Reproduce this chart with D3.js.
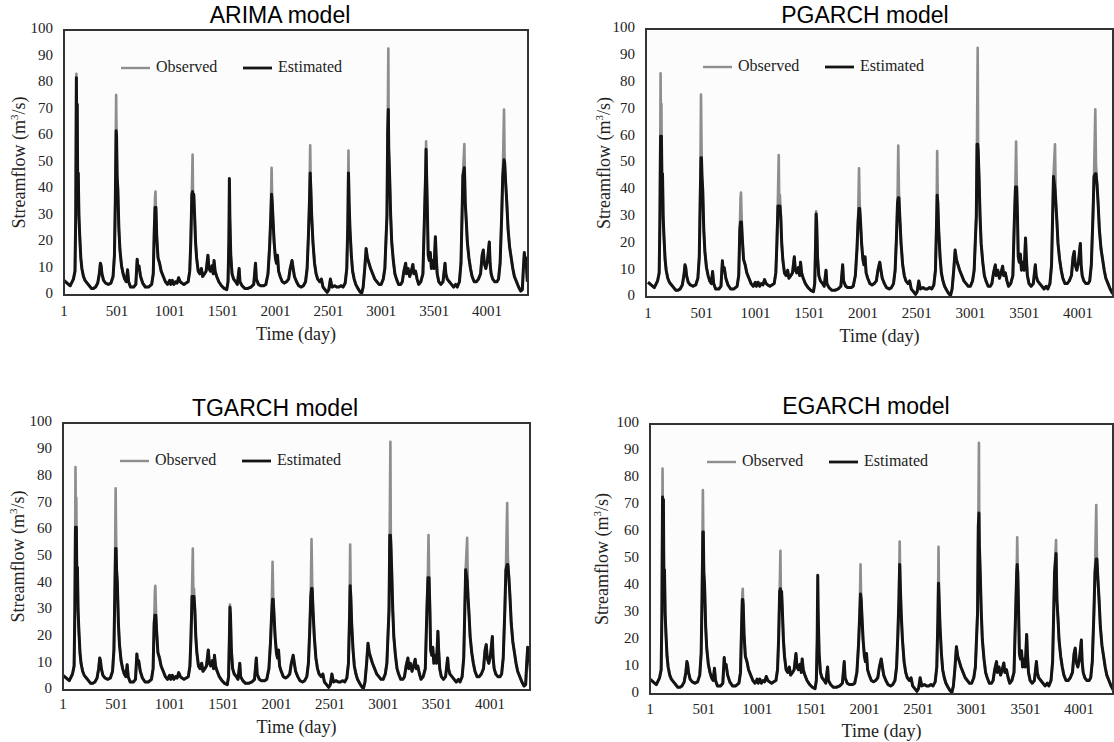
<!DOCTYPE html>
<html>
<head>
<meta charset="utf-8">
<script src="https://cdn.jsdelivr.net/npm/d3@7"></script>
<style>
  body { margin: 0; background: #fff; }
  svg { display: block; }
</style>
</head>
<body>
<svg id="chart" width="1114" height="742"></svg>
<script>
// observed daily streamflow at key days
const days = [1, 30, 60, 90, 105, 112, 118, 122, 126, 130, 136, 142, 150, 160, 170, 185, 200, 220, 240, 260, 280, 300, 320, 335, 345, 352, 360, 375, 395, 420, 445, 465, 478, 486, 494, 498, 503, 510, 520, 530, 545, 560, 575, 590, 602, 612, 630, 660, 680, 693, 700, 710, 725, 745, 770, 800, 830, 845, 855, 862, 866, 870, 878, 890, 905, 920, 940, 960, 980, 1000, 1010, 1025, 1040, 1055, 1070, 1085, 1100, 1115, 1135, 1155, 1175, 1190, 1200, 1210, 1217, 1222, 1228, 1236, 1245, 1255, 1270, 1285, 1300, 1312, 1330, 1345, 1362, 1372, 1385, 1400, 1412, 1420, 1430, 1445, 1465, 1490, 1515, 1540, 1552, 1560, 1565, 1570, 1578, 1590, 1605, 1625, 1640, 1657, 1665, 1685, 1710, 1740, 1770, 1795, 1812, 1820, 1840, 1860, 1890, 1910, 1930, 1945, 1955, 1964, 1970, 1978, 1988, 2000, 2010, 2020, 2030, 2045, 2065, 2085, 2105, 2125, 2140, 2157, 2168, 2180, 2200, 2220, 2245, 2265, 2285, 2300, 2312, 2322, 2329, 2335, 2343, 2355, 2370, 2385, 2400, 2420, 2435, 2450, 2470, 2490, 2505, 2520, 2535, 2560, 2580, 2600, 2620, 2640, 2660, 2675, 2685, 2691, 2697, 2705, 2718, 2730, 2745, 2760, 2780, 2795, 2815, 2830, 2845, 2858, 2870, 2885, 2900, 2920, 2940, 2960, 2980, 3000, 3020, 3035, 3045, 3055, 3062, 3068, 3072, 3080, 3090, 3100, 3115, 3130, 3145, 3165, 3185, 3200, 3215, 3232, 3240, 3255, 3270, 3285, 3300, 3310, 3325, 3340, 3355, 3375, 3395, 3410, 3420, 3425, 3430, 3438, 3445, 3455, 3465, 3475, 3490, 3500, 3513, 3520, 3530, 3545, 3565, 3585, 3604, 3612, 3625, 3645, 3665, 3685, 3705, 3720, 3740, 3755, 3765, 3773, 3787, 3795, 3805, 3815, 3830, 3845, 3860, 3880, 3900, 3920, 3940, 3955, 3966, 3975, 3990, 4005, 4023, 4030, 4040, 4055, 4075, 4095, 4110, 4125, 4140, 4150, 4162, 4168, 4178, 4188, 4200, 4215, 4230, 4245, 4260, 4280, 4300, 4320, 4335, 4345, 4354, 4362, 4370, 4378, 4383];
const observed = [5.5, 4.5, 3.5, 6, 9, 30, 83.5, 60, 72, 45, 46, 30, 22, 14, 10, 7, 5.5, 4.5, 3.5, 2.5, 2.5, 3, 4.5, 8, 12, 11, 8, 5.5, 4.5, 4, 4.5, 7, 15, 35, 75.5, 60, 45, 40, 25, 17, 11, 8, 6, 5, 9.5, 5, 3, 3, 4, 13.5, 10, 11, 7, 4.5, 3, 3, 4, 8, 25, 37, 39, 33, 22, 14, 12, 9, 7, 5, 4, 5.5, 4, 5.5, 4, 5, 4.5, 6.5, 5, 4.5, 4, 4.5, 5, 9, 20, 38, 53, 35, 38, 30, 20, 14, 9, 8, 10, 7, 8, 9, 15, 10, 9, 11, 8, 13, 9, 7, 5, 3.5, 2.5, 2, 5, 20, 32, 28, 15, 8, 6, 5, 4, 10, 5, 3.5, 2.5, 2.5, 3, 4, 12, 6, 4, 3.5, 3.5, 4, 8, 18, 28, 48, 35, 28, 20, 14, 12, 15, 9, 7, 5, 4.5, 5, 6, 10, 13, 10, 7, 5, 3.5, 3, 3.5, 5, 10, 22, 35, 56.5, 40, 30, 20, 12, 8, 6, 5, 6, 3, 2, 1, 2, 6, 3, 3.5, 3, 3, 3.5, 3, 4.5, 10, 27, 54.5, 35, 25, 15, 9, 6, 4, 2.5, 1.5, 0.5, 3, 10, 17.5, 14, 12, 10, 8, 6, 5, 4, 4, 6, 10, 20, 30, 62, 93, 55, 45, 30, 20, 13, 8, 6, 4, 4, 5, 9, 12, 8, 10, 7, 9, 11.5, 8, 9, 6, 4, 5, 8, 30, 45, 58, 45, 30, 15, 13, 16, 10, 13, 10, 22, 15, 8, 5, 4, 5, 12, 8, 6, 5, 4, 3, 4, 3, 5, 12, 30, 45, 57, 35, 28, 20, 14, 10, 7, 5, 5, 6, 8, 15, 17, 12, 10, 13, 20, 12, 8, 6, 5, 5, 6, 12, 30, 45, 70, 50, 42, 35, 25, 18, 14, 10, 7, 5, 3, 1.5, 2, 10, 16, 12, 14, 8, 5];

// estimated flow at the main flood peaks, per model
const peakDays = [118, 494, 866, 1217, 1565, 1964, 2329, 2691, 3068, 3425, 3787, 4162];
const arimaPeaks  = [82, 62, 33, 39, 44, 38, 46, 46, 70, 55, 48, 51];
const pgarchPeaks = [60, 52, 28, 34, 31, 33, 37, 38, 57, 41, 40, 46];
const tgarchPeaks = [61, 53, 28, 35, 31, 34, 38, 39, 58, 42, 41, 47];
const egarchPeaks = [73, 60, 35, 39, 44, 37, 48, 41, 67, 48, 52, 50];

const xTicks = [1, 501, 1001, 1501, 2001, 2501, 3001, 3501, 4001];
const yTicks = [0, 10, 20, 30, 40, 50, 60, 70, 80, 90, 100];

const panels = [
  {title: 'ARIMA model', peaks: arimaPeaks, left: 64, right: 528, top: 30, bottom: 295, x1: 64, x4001: 487, titleX: 280, titleY: 17, tickY: 313, labelY: 336, ylabX: 21},
  {title: 'PGARCH model', peaks: pgarchPeaks, left: 646, right: 1113, top: 29, bottom: 297, x1: 648, x4001: 1078, titleX: 865, titleY: 17, tickY: 315, labelY: 338, ylabX: 606},
  {title: 'TGARCH model', peaks: tgarchPeaks, left: 63, right: 530, top: 423, bottom: 690, x1: 63, x4001: 490, titleX: 275, titleY: 410, tickY: 706, labelY: 729, ylabX: 20},
  {title: 'EGARCH model', peaks: egarchPeaks, left: 650, right: 1113, top: 424, bottom: 694, x1: 650, x4001: 1079, titleX: 866, titleY: 408, tickY: 711, labelY: 733, ylabX: 604}
];

const svg = d3.select('#chart');
const serif = '"Liberation Serif", "Times New Roman", serif';
const obsColor = '#8e8e8e', estColor = '#141414';

function estimatedSeries(peaks) {
  return days.map((d, i) => {
    const j = peakDays.findIndex(p => Math.abs(p - d) <= 12);
    if (j < 0) return observed[i];
    if (peakDays[j] === d) return peaks[j];
    return Math.min(observed[i], peaks[j]);
  });
}

panels.forEach((p, k) => {
  const x = d3.scaleLinear().domain([1, 4001]).range([p.x1, p.x4001]);
  const y = d3.scaleLinear().domain([0, 100]).range([p.bottom, p.top]);
  const g = svg.append('g');

  g.append('text')
    .attr('x', p.titleX).attr('y', p.titleY)
    .attr('text-anchor', 'middle').attr('dominant-baseline', 'middle')
    .style('font-family', '"Liberation Sans", Arial, sans-serif')
    .style('font-size', '23px')
    .text(p.title);

  g.append('rect')
    .attr('x', p.left).attr('y', p.top)
    .attr('width', p.right - p.left).attr('height', p.bottom - p.top)
    .attr('fill', '#fcfcfc');

  const clipId = 'clip' + k;
  g.append('clipPath').attr('id', clipId)
    .append('rect')
    .attr('x', p.left).attr('y', p.top)
    .attr('width', p.right - p.left).attr('height', p.bottom - p.top);

  const line = d3.line().x(d => x(d[0])).y(d => y(d[1]));
  const est = estimatedSeries(p.peaks);

  const plot = g.append('g').attr('clip-path', `url(#${clipId})`);
  plot.append('path')
    .datum(days.map((d, i) => [d, observed[i]]))
    .attr('d', line).attr('fill', 'none')
    .attr('stroke', obsColor).attr('stroke-width', 2.6)
    .attr('stroke-linejoin', 'round');
  plot.append('path')
    .datum(days.map((d, i) => [d, est[i]]))
    .attr('d', line).attr('fill', 'none')
    .attr('stroke', estColor).attr('stroke-width', 3)
    .attr('stroke-linejoin', 'round');

  g.append('rect')
    .attr('x', p.left).attr('y', p.top)
    .attr('width', p.right - p.left).attr('height', p.bottom - p.top)
    .attr('fill', 'none').attr('stroke', '#333').attr('stroke-width', 2);

  g.selectAll('.ytick').data(yTicks).enter().append('text')
    .attr('x', p.left - 11).attr('y', d => y(d))
    .attr('text-anchor', 'end').attr('dominant-baseline', 'middle')
    .style('font-family', serif).style('font-size', '15px').style('fill', '#222')
    .text(d => d);

  g.selectAll('.xtick').data(xTicks).enter().append('text')
    .attr('x', d => x(d)).attr('y', p.tickY)
    .attr('text-anchor', 'middle').attr('dominant-baseline', 'middle')
    .style('font-family', serif).style('font-size', '15px').style('fill', '#222')
    .text(d => d);

  g.append('text')
    .attr('x', (p.left + p.right) / 2).attr('y', p.labelY)
    .attr('text-anchor', 'middle').attr('dominant-baseline', 'middle')
    .style('font-family', serif).style('font-size', '18px').style('fill', '#222')
    .text('Time (day)');

  const yl = g.append('text')
    .attr('transform', `translate(${p.ylabX},${(p.top + p.bottom) / 2}) rotate(-90)`)
    .attr('text-anchor', 'middle').attr('dominant-baseline', 'middle')
    .style('font-family', serif).style('font-size', '18px').style('fill', '#222');
  yl.append('tspan').text('Streamflow (m');
  yl.append('tspan').attr('baseline-shift', 'super').style('font-size', '11px').text('3');
  yl.append('tspan').text('/s)');

  // legend
  const ly = p.top + 38;
  const lx = p.left;
  g.append('line').attr('x1', lx + 57).attr('x2', lx + 86).attr('y1', ly).attr('y2', ly)
    .attr('stroke', obsColor).attr('stroke-width', 2.4);
  g.append('text').attr('x', lx + 92).attr('y', ly)
    .attr('dominant-baseline', 'middle')
    .style('font-family', serif).style('font-size', '16px').style('fill', '#222')
    .text('Observed');
  g.append('line').attr('x1', lx + 179).attr('x2', lx + 208).attr('y1', ly).attr('y2', ly)
    .attr('stroke', estColor).attr('stroke-width', 2.8);
  g.append('text').attr('x', lx + 214).attr('y', ly)
    .attr('dominant-baseline', 'middle')
    .style('font-family', serif).style('font-size', '16px').style('fill', '#222')
    .text('Estimated');
});
</script>
</body>
</html>
